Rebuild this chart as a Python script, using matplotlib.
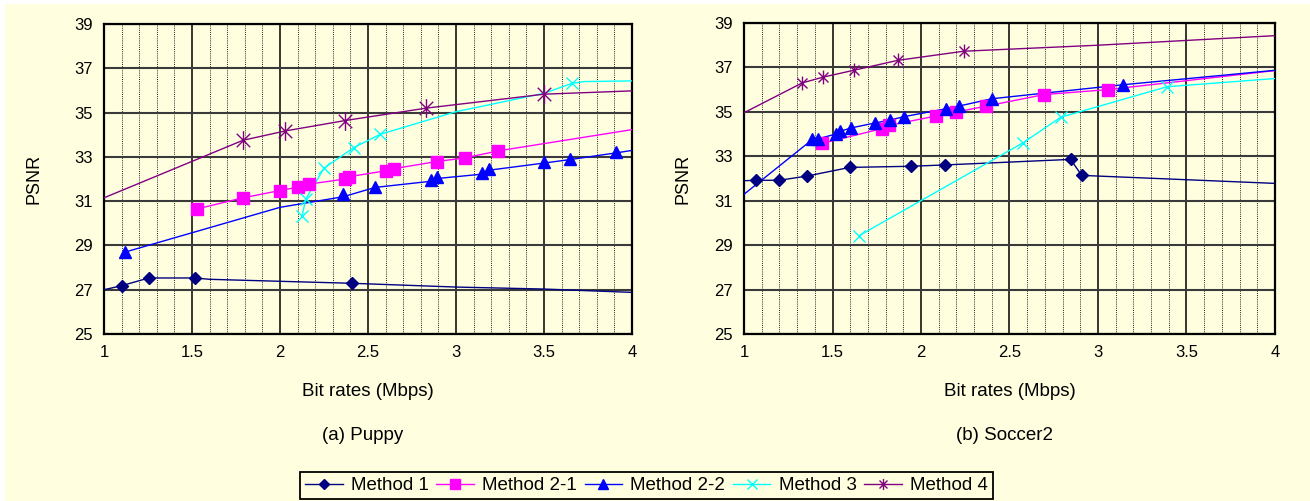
import matplotlib
matplotlib.use("Agg")
import matplotlib.pyplot as plt
from matplotlib.patches import Rectangle
from matplotlib.path import Path
from matplotlib.lines import Line2D
from matplotlib.ticker import MultipleLocator

plt.rcParams['font.family'] = ['Liberation Sans', 'DejaVu Sans']

methods = ["Method 1", "Method 2-1", "Method 2-2", "Method 3", "Method 4"]
colors = ["#000080", "#FF00FF", "#0000FF", "#00FFFF", "#800080"]

# ---------------- (a) Puppy ----------------
puppy_m1_x = [1.10, 1.254, 1.517, 2.41]
puppy_m1_y = [27.18, 27.53, 27.53, 27.29]
puppy_m1_line_x = [1.0, 1.10, 1.254, 1.517, 1.6, 2.0, 2.41, 3.0, 3.5, 4.0]
puppy_m1_line_y = [27.0, 27.18, 27.53, 27.53, 27.47, 27.38, 27.29, 27.12, 27.03, 26.88]

puppy_m21_x = [1.529, 1.79, 2.0, 2.10, 2.165, 2.37, 2.39, 2.60, 2.65, 2.89, 3.05, 3.24]
puppy_m21_y = [30.65, 31.15, 31.48, 31.63, 31.77, 32.0, 32.1, 32.37, 32.47, 32.79, 32.95, 33.27]
puppy_m21_line_x = puppy_m21_x + [4.0]
puppy_m21_line_y = puppy_m21_y + [34.23]

puppy_m22_x = [1.12, 2.36, 2.54, 2.86, 2.89, 3.15, 3.19, 3.50, 3.65, 3.91]
puppy_m22_y = [28.70, 31.33, 31.62, 31.95, 32.07, 32.26, 32.46, 32.77, 32.89, 33.22]
puppy_m22_line_x = [1.12, 2.0, 2.36, 2.54, 2.86, 2.89, 3.15, 3.19, 3.50, 3.65, 3.91, 4.0]
puppy_m22_line_y = [28.70, 30.72, 31.20, 31.62, 31.90, 32.02, 32.22, 32.40, 32.72, 32.88, 33.18, 33.29]

puppy_m3_x = [2.125, 2.146, 2.25, 2.42, 2.57, 3.66]
puppy_m3_y = [30.31, 31.09, 32.49, 33.42, 34.02, 36.32]
puppy_m3_line_x = [2.125, 2.146, 2.25, 2.42, 2.57, 3.0, 3.5, 3.66, 3.73, 4.0]
puppy_m3_line_y = [30.31, 31.09, 32.49, 33.42, 34.02, 35.04, 35.87, 36.32, 36.40, 36.43]

puppy_m4_x = [1.79, 2.03, 2.37, 2.83, 3.50]
puppy_m4_y = [33.75, 34.17, 34.64, 35.20, 35.83]
puppy_m4_line_x = [1.0, 1.79, 2.03, 2.37, 2.83, 3.50, 4.0]
puppy_m4_line_y = [31.15, 33.75, 34.17, 34.64, 35.20, 35.83, 35.98]

# ---------------- (b) Soccer2 ----------------
soccer_m1_x = [1.066, 1.20, 1.356, 1.598, 1.942, 2.134, 2.845, 2.908]
soccer_m1_y = [31.92, 31.92, 32.11, 32.50, 32.55, 32.61, 32.86, 32.14]
soccer_m1_line_x = [1.0] + soccer_m1_x + [4.0]
soccer_m1_line_y = [31.90] + soccer_m1_y + [31.78]

soccer_m21_x = [1.438, 1.778, 1.818, 2.083, 2.198, 2.369, 2.697, 3.055]
soccer_m21_y = [33.58, 34.24, 34.39, 34.81, 34.99, 35.26, 35.78, 36.00]
soccer_m21_line_x = soccer_m21_x + [4.0]
soccer_m21_line_y = soccer_m21_y + [36.86]

soccer_m22_x = [1.387, 1.42, 1.518, 1.544, 1.607, 1.74, 1.825, 1.902, 2.141, 2.214, 2.40, 3.14]
soccer_m22_y = [33.76, 33.79, 34.00, 34.13, 34.28, 34.50, 34.63, 34.78, 35.14, 35.26, 35.59, 36.22]
soccer_m22_line_x = [1.0] + soccer_m22_x + [4.0]
soccer_m22_line_y = [31.29] + soccer_m22_y + [36.87]

soccer_m3_x = [1.649, 2.577, 2.79, 3.39]
soccer_m3_y = [29.42, 33.61, 34.76, 36.13]
soccer_m3_line_x = soccer_m3_x + [4.0]
soccer_m3_line_y = soccer_m3_y + [36.50]

soccer_m4_x = [1.328, 1.445, 1.619, 1.87, 2.242]
soccer_m4_y = [36.30, 36.56, 36.87, 37.32, 37.73]
soccer_m4_line_x = [1.0] + soccer_m4_x + [3.0, 4.0]
soccer_m4_line_y = [34.96] + soccer_m4_y + [38.00, 38.43]

x_ticks = [1, 1.5, 2, 2.5, 3, 3.5, 4]
x_tick_labels = ["1", "1.5", "2", "2.5", "3", "3.5", "4"]
y_ticks = [25, 27, 29, 31, 33, 35, 37, 39]
captions = ["(a) Puppy", "(b) Soccer2"]
xlabel = "Bit rates (Mbps)"
ylabel = "PSNR"

BG = "#FFFFE0"

asterisk = Path([(0, -1), (0, 1), (-0.72, -0.72), (0.72, 0.72), (-0.72, 0.72), (0.72, -0.72)],
                [Path.MOVETO, Path.LINETO, Path.MOVETO, Path.LINETO, Path.MOVETO, Path.LINETO])
markers = ["D", "s", "^", "x", asterisk]
msizes = [6.3, 8.5, 9, 9, 12]

fig = plt.figure(figsize=(13.1, 5.01), dpi=100, facecolor="white")
fig.patches.append(Rectangle((5 / 1310, 0), 1, (501 - 4) / 501, transform=fig.transFigure,
                             facecolor=BG, edgecolor="none", zorder=-10))

ax_l = fig.add_axes([104 / 1310, (501 - 334) / 501, (632 - 104) / 1310, (334 - 24) / 501])
ax_r = fig.add_axes([744 / 1310, (501 - 334) / 501, (1275 - 744) / 1310, (334 - 23) / 501])

panels = [
    (ax_l, [(puppy_m1_line_x, puppy_m1_line_y, puppy_m1_x, puppy_m1_y),
            (puppy_m21_line_x, puppy_m21_line_y, puppy_m21_x, puppy_m21_y),
            (puppy_m22_line_x, puppy_m22_line_y, puppy_m22_x, puppy_m22_y),
            (puppy_m3_line_x, puppy_m3_line_y, puppy_m3_x, puppy_m3_y),
            (puppy_m4_line_x, puppy_m4_line_y, puppy_m4_x, puppy_m4_y)], 13.5, -0.116),
    (ax_r, [(soccer_m1_line_x, soccer_m1_line_y, soccer_m1_x, soccer_m1_y),
            (soccer_m21_line_x, soccer_m21_line_y, soccer_m21_x, soccer_m21_y),
            (soccer_m22_line_x, soccer_m22_line_y, soccer_m22_x, soccer_m22_y),
            (soccer_m3_line_x, soccer_m3_line_y, soccer_m3_x, soccer_m3_y),
            (soccer_m4_line_x, soccer_m4_line_y, soccer_m4_x, soccer_m4_y)], 10, -0.098),
]

for i, (ax, series, ast_size, ylab_x) in enumerate(panels):
    ax.set_facecolor(BG)
    ax.set_xlim(1, 4)
    ax.set_ylim(25, 39)
    ax.set_xticks(x_ticks)
    ax.set_xticklabels(x_tick_labels)
    ax.set_yticks(y_ticks)
    ax.xaxis.set_minor_locator(MultipleLocator(0.1))
    ax.tick_params(which="both", length=0)
    ax.tick_params(axis="x", pad=8, labelsize=12)
    ax.tick_params(axis="y", pad=8, labelsize=12)
    ax.grid(which="minor", axis="x", color="#222222", linestyle=(0, (1, 1.2)), linewidth=0.7)
    ax.grid(which="major", axis="x", color="black", linewidth=1.1)
    ax.grid(which="major", axis="y", color="#3a3a3a", linewidth=1.5)
    ax.set_axisbelow(True)
    for s in ax.spines.values():
        s.set_linewidth(1.6)
        s.set_color("black")
    for k, (lx, ly, mx, my) in enumerate(series):
        ax.plot(lx, ly, color=colors[k], linewidth=1.0, zorder=3)
        ms = ast_size if k == 4 else msizes[k]
        ax.plot(mx, my, linestyle="none", marker=markers[k], markersize=ms,
                color=colors[k], markeredgecolor=colors[k], markeredgewidth=1.0, zorder=4)
    ax.set_ylabel(ylabel, fontsize=13)
    ax.yaxis.set_label_coords(ylab_x, 0.5)
    ax.text(0.5, -0.184, xlabel, transform=ax.transAxes, ha="center", va="center", fontsize=13.5)
    ax.text(0.49, -0.326, captions[i], transform=ax.transAxes, ha="center", va="center", fontsize=13.5)

handles = []
for k in range(5):
    ms = 8 if k == 4 else msizes[k] * 0.8
    handles.append(Line2D([], [], color=colors[k], linewidth=1.0, marker=markers[k], markersize=ms,
                          markeredgecolor=colors[k]))
leg = fig.legend(handles, methods, loc="center", bbox_to_anchor=(646.5 / 1310, 1 - 485.5 / 501),
                 ncol=5, fontsize=13.5, frameon=True, fancybox=False, handlelength=2.0,
                 handletextpad=0.45, columnspacing=0.4, borderpad=0.25, borderaxespad=0)
leg.get_frame().set_edgecolor("black")
leg.get_frame().set_linewidth(1.3)
leg.get_frame().set_facecolor(BG)
leg.get_frame().set_alpha(1)

fig.savefig("out.png", dpi=100, facecolor=fig.get_facecolor())
